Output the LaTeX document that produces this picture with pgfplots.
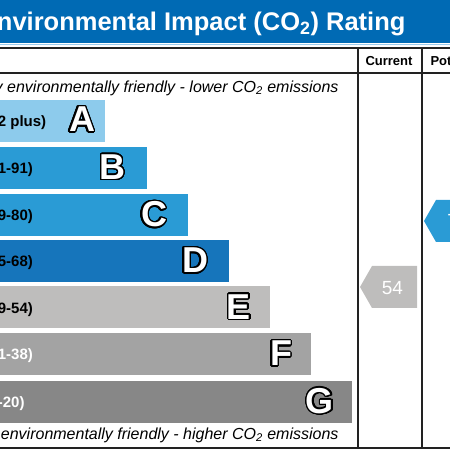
\documentclass[border=0pt]{standalone}
\usepackage{pgfplots}
\pgfplotsset{compat=1.18}
\usepackage{fontspec}
\setmainfont{Liberation Sans}
\usepackage{contour}
\contourlength{1.4pt}
\contournumber{32}

\definecolor{titleblue}{HTML}{006AB4}
\definecolor{titleline}{HTML}{9DCDEE}
\definecolor{bandA}{HTML}{8DCBEC}
\definecolor{bandB}{HTML}{2A9BD5}
\definecolor{bandC}{HTML}{2A9BD5}
\definecolor{bandD}{HTML}{1675BB}
\definecolor{bandE}{HTML}{BEBDBC}
\definecolor{bandF}{HTML}{A3A3A3}
\definecolor{bandG}{HTML}{878787}
\definecolor{rule}{HTML}{222222}

\newcommand{\bandletter}[1]{\textcolor{white}{\contour{black}{#1}}}
\newcommand{\fs}[1]{\fontsize{#1bp}{#1bp}\selectfont}

\begin{document}
\begin{tikzpicture}
\path[use as bounding box, clip] (0,0) rectangle (450bp,450bp);
\begin{axis}[
    at={(0,0)}, anchor=south west,
    width=450bp, height=450bp, scale only axis,
    xmin=0, xmax=450, ymin=0, ymax=450,
    hide axis, clip=false,
  ]
  % title band
  \fill[titleblue] (-20,407) rectangle (470,470);
  \draw[titleline, line width=1bp] (-20,405.5) -- (470,405.5);
  \node[anchor=base east, text=white, font=\fs{25.5}\bfseries]
    at (409,419) {Environmental Impact (CO\textsubscript{2}) Rating};

  % bands (right edge, centre)
  \addplot[xbar, bar shift=0pt, bar width=42, fill=bandA, draw=none] coordinates {(105,329)};
  \addplot[xbar, bar shift=0pt, bar width=42, fill=bandB, draw=none] coordinates {(147,282.3)};
  \addplot[xbar, bar shift=0pt, bar width=42, fill=bandC, draw=none] coordinates {(188,235)};
  \addplot[xbar, bar shift=0pt, bar width=42, fill=bandD, draw=none] coordinates {(229,189)};
  \addplot[xbar, bar shift=0pt, bar width=42, fill=bandE, draw=none] coordinates {(270,142.5)};
  \addplot[xbar, bar shift=0pt, bar width=42, fill=bandF, draw=none] coordinates {(311,95.7)};
  \addplot[xbar, bar shift=0pt, bar width=42, fill=bandG, draw=none] coordinates {(352,48.3)};

  % band ranges
  \begin{scope}[every node/.style={anchor=base west, font=\fs{15}\bfseries}]
    \node[text=black] at (-19,323.5) {(92 plus)};
    \node[text=black] at (-19,276.8) {(81-91)};
    \node[text=black] at (-19,229.5) {(69-80)};
    \node[text=black] at (-19,183.5) {(55-68)};
    \node[text=black] at (-19,137)   {(39-54)};
    \node[text=white] at (-19,90.2)  {(21-38)};
    \node[text=white] at (-19,42.8)  {(1-20)};
  \end{scope}

  % band letters
  \begin{scope}[every node/.style={font=\fs{36}\bfseries, inner sep=0pt}]
    \node at (82,330)    {\bandletter{A}};
    \node at (112.5,282.3) {\bandletter{B}};
    \node at (154,235)   {\bandletter{C}};
    \node at (195,189)   {\bandletter{D}};
    \node at (239,142.5) {\bandletter{E}};
    \node at (281,95.7)  {\bandletter{F}};
    \node at (320,48.3)  {\bandletter{G}};
  \end{scope}

  % ratings
  \addplot[fill=bandE, draw=none] coordinates {(360,163) (372,184) (417,184) (417,142) (372,142) (360,163)};
  \node[text=white, font=\fs{19}] at (392.5,161.7) {54};
  \addplot[fill=bandC, draw=none] coordinates {(424,229) (436,250) (482,250) (482,208) (436,208) (424,229)};
  \node[text=white, font=\fs{19}] at (458,229) {77};

  % table frame
  \draw[rule, line width=1.8bp] (-20,402) -- (470,402);
  \draw[rule, line width=1.8bp] (-20,377) -- (470,377);
  \draw[rule, line width=1.8bp] (-20,2) -- (470,2);
  \draw[rule, line width=1.8bp] (358,2) -- (358,402);
  \draw[rule, line width=1.8bp] (422,2) -- (422,402);

  % headers and captions
  \node[anchor=base, font=\fs{13}\bfseries] at (389,385) {Current};
  \node[anchor=base west, font=\fs{13}\bfseries] at (427,385) {Potential};
  \node[anchor=base east, font=\fs{16}\itshape] at (342,358)
    {Very environmentally friendly - lower CO\textsubscript{2} emissions};
  \node[anchor=base east, font=\fs{16}\itshape] at (342,11)
    {Not environmentally friendly - higher CO\textsubscript{2} emissions};
\end{axis}
\end{tikzpicture}
\end{document}
